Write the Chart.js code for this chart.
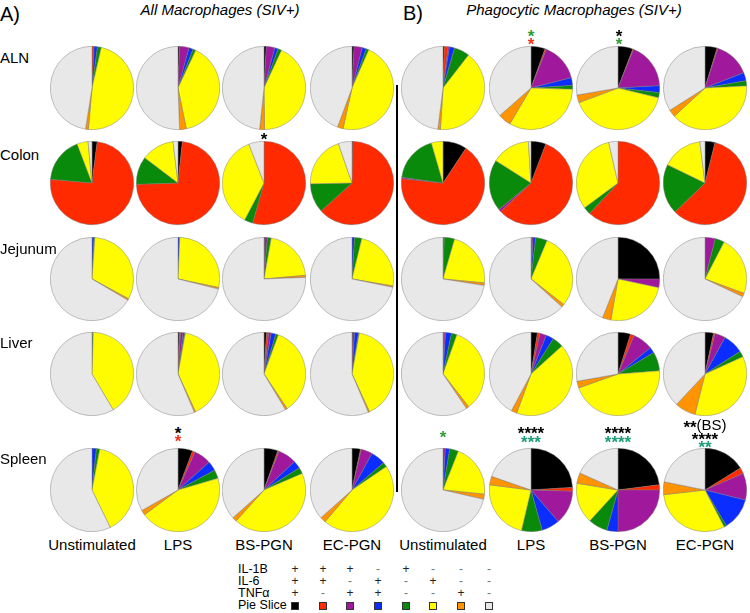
<html>
<head>
<meta charset="UTF-8">
<script src="https://cdn.jsdelivr.net/npm/chart.js@4.4.0/dist/chart.umd.min.js"></script>
<style>
body { margin:0; background:#fff; font-family:"Liberation Sans", Arial, sans-serif; }
#wrap { position:relative; width:750px; height:613px; overflow:hidden; }
#wrap canvas { position:absolute; }
.t { position:absolute; white-space:nowrap; line-height:1; color:#000; }
.sq { display:inline-block; width:6px; height:6px; border:1px solid #333; }
</style>
</head>
<body>
<div id="wrap"></div>

<script>
// slice order: clockwise from 12 o'clock
var sliceLabels = ['IL-1B+ IL-6+ TNFa+', 'IL-1B+ IL-6+', 'IL-1B+ TNFa+', 'IL-6+ TNFa+', 'IL-1B+', 'IL-6+', 'TNFa+', 'none'];
var sliceColors = ['#000000', '#ff2a00', '#a0199d', '#0b2dff', '#0a8a0a', '#fffb00', '#ff9300', '#e8e8e8'];
var il1b = ['+', '+', '+', '-', '+', '-', '-', '-'];
var il6  = ['+', '+', '-', '+', '-', '+', '-', '-'];
var tnfa = ['+', '-', '+', '+', '-', '-', '+', '-'];

var tissues = ['ALN', 'Colon', 'Jejunum', 'Liver', 'Spleen'];
var stimuli = ['Unstimulated', 'LPS', 'BS-PGN', 'EC-PGN'];

// A) All Macrophages (SIV+), % per slice, one row per stimulus
var allALN = [
	[0, 0.8, 0, 1.3, 1.5, 47.8, 1.1, 47.5],
	[0.6, 0, 3.7, 1.6, 1.1, 39.8, 2.6, 50.6],
	[0.9, 0, 3.3, 1.3, 1.4, 42.9, 1.9, 48.3],
	[0.8, 0, 3.2, 1.6, 1, 46.8, 2.2, 44.3]
];
var allColon = [
	[2, 74.4, 0, 0, 17.8, 4.3, 0, 1.5],
	[1.7, 72.8, 0, 0, 10.8, 12.8, 0, 1.9],
	[0, 54.4, 0, 0, 3.3, 36.4, 0, 5.9],
	[0.3, 63, 0, 0, 11.4, 20, 0, 5.3]
];
var allJejunum = [
	[0, 0, 0, 0.8, 0.3, 31.8, 0.6, 66.5],
	[0, 0, 0, 0.7, 0, 27.6, 0.6, 71.1],
	[0.3, 0, 1, 0, 1.5, 20.8, 0.8, 75.6],
	[0, 0, 0, 1, 2.8, 23.9, 0.5, 71.8]
];
var allLiver = [
	[0, 0, 0, 0.2, 0.3, 41, 0, 58.5],
	[0.5, 0.5, 1, 0.5, 0.3, 40.3, 0.5, 56.4],
	[1, 0.8, 1, 1.8, 1, 35, 0.8, 58.6],
	[0.3, 0, 0.7, 1.5, 0.3, 40.3, 0.5, 56.4]
];
var allSpleen = [
	[0, 0, 0, 1.7, 1.3, 39.8, 0, 57.2],
	[5.7, 1, 6.7, 3.7, 3.4, 44.4, 1.9, 33.2],
	[5.4, 0.5, 7.2, 3, 2.4, 43.2, 1.7, 36.6],
	[3.3, 0.3, 4.4, 5.7, 1.8, 45.7, 2.2, 36.6]
];

// B) Phagocytic Macrophages (SIV+)
var phagALN = [
	[0.5, 1.5, 0.5, 2, 6, 40.5, 1, 48],
	[5.5, 0.5, 15, 3, 1.5, 33, 5, 36.5],
	[5.8, 0.3, 18, 2.7, 2, 40.5, 3, 27.7],
	[4.7, 0.3, 14, 3.2, 2, 39, 2.8, 34]
];
var phagColon = [
	[9.3, 67.4, 0.5, 0, 18.3, 4.5, 0, 0],
	[5.8, 57.2, 1, 0, 20, 15, 0, 1],
	[0, 62, 0, 0, 2.9, 31.6, 0, 3.6],
	[3.9, 58.9, 0, 0, 19.4, 15.8, 0, 2]
];
var phagJejunum = [
	[0, 0.5, 0, 0, 4, 22, 1, 72.5],
	[0, 0.3, 0.5, 1, 4.5, 29.2, 1.2, 63.3],
	[25, 0, 3.3, 0, 0, 24.4, 3.3, 43.9],
	[0, 0, 4, 0, 3.6, 23, 1.4, 68]
];
var phagLiver = [
	[0, 0.5, 0.5, 2.3, 2.1, 34, 1.1, 59.5],
	[2.5, 1, 2.5, 3, 4.3, 42.3, 2.2, 42.2],
	[4.9, 1.4, 7.9, 2.2, 7.4, 45.8, 2.6, 27.8],
	[3.3, 0.6, 4.1, 7.9, 2.3, 35.7, 8.1, 38]
];
var phagSpleen = [
	[0, 0, 0.9, 1.7, 3.4, 20.6, 2, 71.4],
	[24, 1.5, 13.2, 7, 8, 23.3, 3.3, 19.7],
	[23, 2, 25, 4.3, 7.5, 15.8, 4.1, 18.3],
	[16.2, 2.3, 10.4, 12.5, 1, 30.8, 5, 21.8]
];

var allData = [allALN, allColon, allJejunum, allLiver, allSpleen];
var phagData = [phagALN, phagColon, phagJejunum, phagLiver, phagSpleen];
</script>

<script>
var wrap = document.getElementById('wrap');
var colX = [92, 178, 264, 352, 443, 531, 618, 705];
var rowY = [88, 182.5, 278.5, 373.5, 489.5];
var D = 84;

function text(str, x, y, css, align) {
	var d = document.createElement('div');
	d.className = 't';
	d.innerHTML = str;
	d.style.left = x + 'px';
	d.style.top = y + 'px';
	d.style.transform = (align == 'left') ? 'translate(0,-50%)' : 'translate(-50%,-50%)';
	if (css) d.style.cssText += css;
	wrap.appendChild(d);
	return d;
}

// asterisks sit high in the line box, so shift down a little
function stars(str, x, y, color) {
	return text(str, x, y + 4, 'font-size:17px;font-weight:bold;color:' + color + ';');
}

function pie(values, cx, cy) {
	var c = document.createElement('canvas');
	c.width = D; c.height = D;
	c.style.left = (cx - D / 2) + 'px';
	c.style.top = (cy - D / 2) + 'px';
	wrap.appendChild(c);
	new Chart(c.getContext('2d'), {
		type: 'pie',
		data: {
			labels: sliceLabels,
			datasets: [{
				data: values,
				backgroundColor: sliceColors,
				borderColor: 'rgba(120,120,120,0.75)',
				borderWidth: function(ctx) { return ctx.raw > 0 ? 0.6 : 0; }
			}]
		},
		options: {
			responsive: false,
			animation: false,
			events: [],
			layout: { padding: 0 },
			plugins: { legend: { display: false }, tooltip: { enabled: false } }
		}
	});
}

for (var r = 0; r < tissues.length; r++) {
	for (var s = 0; s < 4; s++) {
		pie(allData[r][s], colX[s], rowY[r]);
		pie(phagData[r][s], colX[s + 4], rowY[r]);
	}
}

// panel headings
text('A)', 0, 14, 'font-size:20px;', 'left');
text('All Macrophages (SIV+)', 220, 9, 'font-size:15px;font-style:italic;');
text('B)', 403, 13, 'font-size:20px;', 'left');
text('Phagocytic Macrophages (SIV+)', 574, 9, 'font-size:15px;font-style:italic;');

// tissue names
var tissueY = [57, 154, 248, 342, 458];
for (var i = 0; i < tissues.length; i++)
	text(tissues[i], 0, tissueY[i], 'font-size:15px;', 'left');

// stimulus names
for (var i = 0; i < 8; i++)
	text(stimuli[i % 4], colX[i], 544, 'font-size:15px;');

// divider
var ln = document.createElement('div');
ln.style.cssText = 'position:absolute;left:396px;top:85px;width:1.6px;height:407px;background:#000;';
wrap.appendChild(ln);

// significance marks
var green = '#2e9d34', teal = '#1c9c78', red = '#f0321c';
stars('*', 264, 135, '#000');
stars('*', 178, 429, '#000');
stars('*', 178, 437, red);
stars('*', 531, 32, green);
stars('*', 531, 40, red);
stars('*', 619, 32, '#000');
stars('*', 619, 40, green);
stars('*', 443, 433, green);
stars('****', 531, 429, '#000');
stars('***', 531, 438, teal);
stars('****', 618, 429, '#000');
stars('****', 618, 438, teal);
text('<span style="font-size:17px;font-weight:bold;position:relative;top:3px">**</span>(BS)', 705, 424, 'font-size:15px;');
stars('****', 705, 435, '#000');
stars('**', 705, 443, teal);

// key table
var keyX = [295, 323, 350, 378, 406, 433, 461, 489];
var keyY = [569, 581, 593, 605];
var keyRows = ['IL-1B', 'IL-6', 'TNF\u03b1', 'Pie Slice'];
var signs = [il1b, il6, tnfa];
for (var k = 0; k < 4; k++) {
	text(keyRows[k], 238, keyY[k], 'font-size:12.5px;', 'left');
	for (var j = 0; j < 8; j++) {
		if (k < 3)
			text(signs[k][j], keyX[j], keyY[k], 'font-size:12px;color:' + (signs[k][j] == '+' ? '#222' : '#777') + ';');
		else
			text('<span class="sq" style="background:' + sliceColors[j] + '"></span>', keyX[j], keyY[k] + 1, 'font-size:8px;line-height:8px;');
	}
}
</script>
</body>
</html>
